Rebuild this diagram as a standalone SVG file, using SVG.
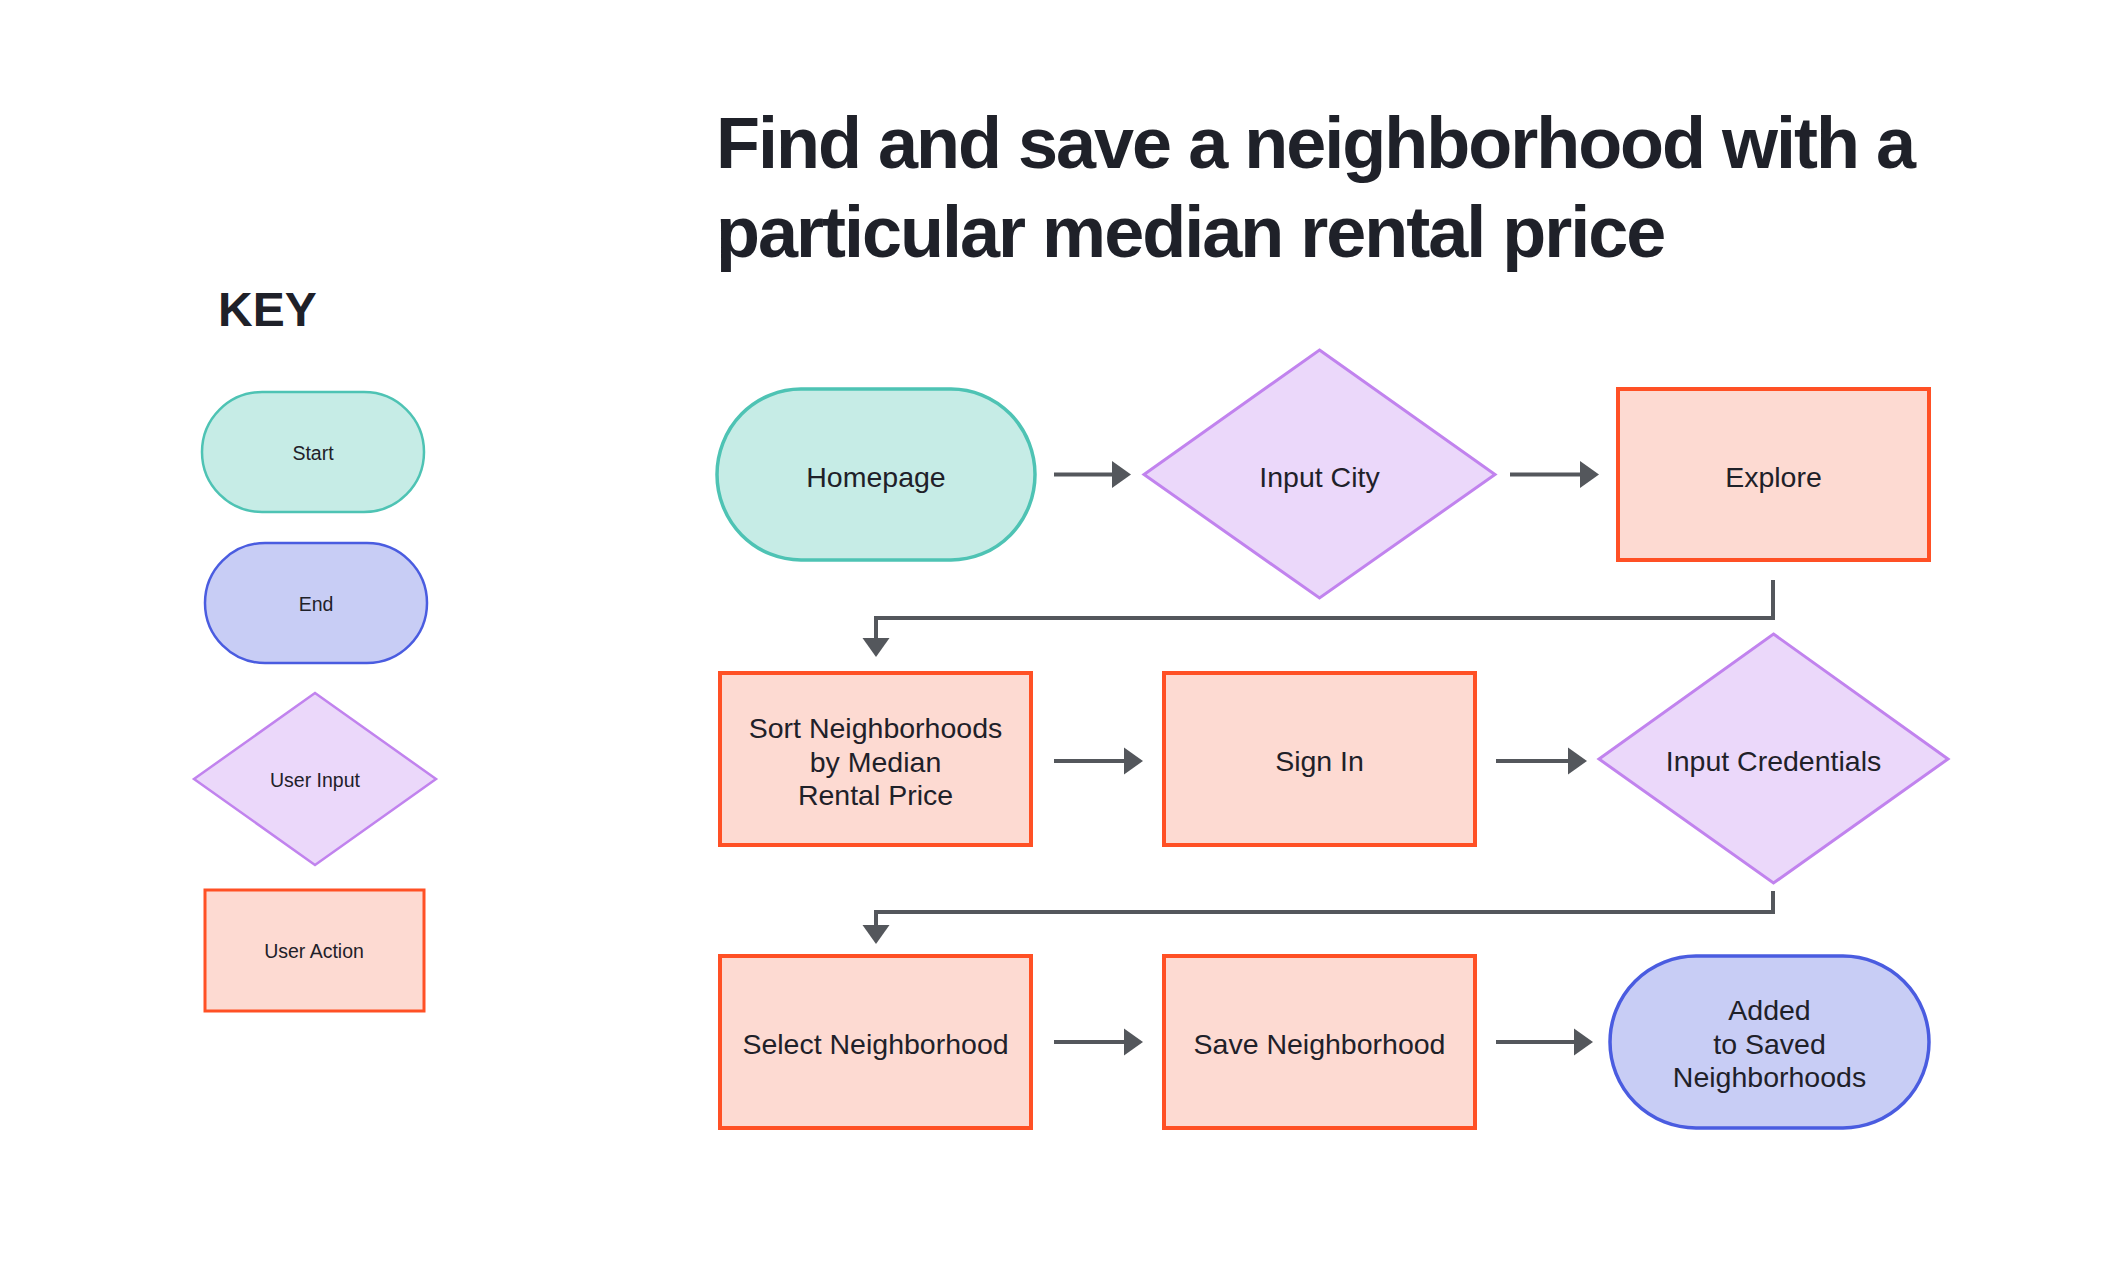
<svg xmlns="http://www.w3.org/2000/svg" width="2110" height="1282" viewBox="0 0 2110 1282">
<defs>
<style>
.t{font-family:"Liberation Sans",Arial,sans-serif;fill:#1f2129;text-anchor:middle}
.n{font-size:28.5px}
.k{font-size:19.5px}
.start{fill:#c6ece6;stroke:#4ec3b4;stroke-width:3.5}
.end{fill:#c8cdf5;stroke:#4a5ce0;stroke-width:3.5}
.inp{fill:#ebd8fa;stroke:#c183ee;stroke-width:3}
.act{fill:#fddad2;stroke:#ff5025;stroke-width:4}
.c{fill:none;stroke:#54575c;stroke-width:4;marker-end:url(#ah)}
.ttl{font-family:"Liberation Sans",Arial,sans-serif;font-weight:bold;font-size:72px;letter-spacing:-2px;fill:#1f2129}
</style>
<marker id="ah" markerUnits="userSpaceOnUse" markerWidth="20" markerHeight="28" refX="0" refY="13.5" orient="auto" viewBox="0 0 20 27">
<path d="M0,0 L19,13.5 L0,27 Z" fill="#54575c"/>
</marker>
</defs>
<rect width="2110" height="1282" fill="#ffffff"/>
<g id="title">
<text x="716" y="168" class="ttl">Find and save a neighborhood with a</text>
<text x="716" y="257" class="ttl">particular median rental price</text>
</g>
<g id="key">
<text x="218" y="326" style="font-family:'Liberation Sans',Arial,sans-serif;font-weight:bold;font-size:48px;fill:#1f2129">KEY</text>
<g id="key-start"><rect x="202" y="392" width="222" height="120" rx="60" ry="60" class="start" style="stroke-width:2.5"/><text x="313" y="460" class="t k">Start</text></g>
<g id="key-end"><rect x="205" y="543" width="222" height="120" rx="60" ry="60" class="end" style="stroke-width:2.5"/><text x="316" y="611" class="t k">End</text></g>
<g id="key-input"><polygon points="315,693 436,779 315,865 194,779" class="inp" style="stroke-width:2.5"/><text x="315" y="787" class="t k">User Input</text></g>
<g id="key-action"><rect x="205" y="890" width="219" height="121" class="act" style="stroke-width:3"/><text x="314" y="958" class="t k">User Action</text></g>
</g>
<g id="connectors">
<path class="c" d="M1054,474.5 H1112"/>
<path class="c" d="M1510,474.5 H1580"/>
<path class="c" d="M1773,580 V618 H876 V638"/>
<path class="c" d="M1054,761 H1124"/>
<path class="c" d="M1496,761 H1568"/>
<path class="c" d="M1773,891 V912 H876 V925"/>
<path class="c" d="M1054,1042 H1124"/>
<path class="c" d="M1496,1042 H1574"/>
</g>
<g id="homepage"><rect x="717" y="389" width="318" height="171" rx="84" ry="85.5" class="start"/><text x="876" y="487" class="t n">Homepage</text></g>
<g id="input-city"><polygon points="1319.5,350 1495,474.5 1319.5,598 1144,474.5" class="inp"/><text x="1319.5" y="487" class="t n">Input City</text></g>
<g id="explore"><rect x="1618" y="389" width="311" height="171" class="act"/><text x="1773.5" y="487" class="t n">Explore</text></g>
<g id="sort"><rect x="720" y="673" width="311" height="172" class="act"/><text class="t n"><tspan x="875.5" y="738">Sort Neighborhoods</tspan><tspan x="875.5" y="772">by Median</tspan><tspan x="875.5" y="805">Rental Price</tspan></text></g>
<g id="sign-in"><rect x="1164" y="673" width="311" height="172" class="act"/><text x="1319.5" y="771" class="t n">Sign In</text></g>
<g id="input-credentials"><polygon points="1773.5,634 1948,759 1773.5,883 1599,759" class="inp"/><text x="1773.5" y="771" class="t n">Input Credentials</text></g>
<g id="select"><rect x="720" y="956" width="311" height="172" class="act"/><text x="875.5" y="1054" class="t n">Select Neighborhood</text></g>
<g id="save"><rect x="1164" y="956" width="311" height="172" class="act"/><text x="1319.5" y="1054" class="t n">Save Neighborhood</text></g>
<g id="added"><rect x="1610" y="956" width="319" height="172" rx="86" ry="86" class="end"/><text class="t n"><tspan x="1769.5" y="1020">Added</tspan><tspan x="1769.5" y="1053.5">to Saved</tspan><tspan x="1769.5" y="1087">Neighborhoods</tspan></text></g>
</svg>
